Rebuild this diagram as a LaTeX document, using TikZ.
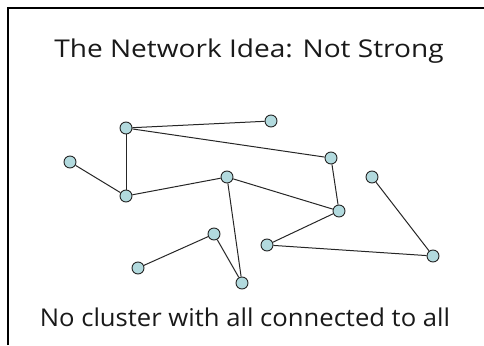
\documentclass[tikz,border=0pt]{standalone}
\usepackage{fontspec}
\setmainfont{Open Sans}
\definecolor{nodefill}{RGB}{178,218,222}
\begin{document}
\begin{tikzpicture}[x=1pt,y=-1pt,
  vert/.style={circle,draw=black!85,fill=nodefill,line width=0.9pt,inner sep=0pt,minimum size=12pt},
  link/.style={line width=1pt,black!85},
  txt/.style={font=\fontsize{24.5}{28}\selectfont,text=black!90,anchor=base,inner sep=0pt}]
\useasboundingbox (0,0) rectangle (484,345);
\draw[line width=2pt] (8,345) -- (8,8) -- (484,8);
\node[txt,xscale=1.145] (title) at (249,57) {The Network Idea: Not Strong};
\node[txt,xscale=1.046] (caption) at (245,326) {No cluster with all connected to all};
\node[vert] (A) at (126,128) {};
\node[vert] (B) at (271,121) {};
\node[vert] (C) at (331,158) {};
\node[vert] (D) at (70,162) {};
\node[vert] (E) at (126,196) {};
\node[vert] (F) at (227,177) {};
\node[vert] (G) at (339,211) {};
\node[vert] (H) at (372,177) {};
\node[vert] (I) at (214,234) {};
\node[vert] (J) at (267,245) {};
\node[vert] (K) at (433,256) {};
\node[vert] (L) at (138,268) {};
\node[vert] (M) at (242,283) {};
\draw[link] (A) -- (B);
\draw[link] (A) -- (C);
\draw[link] (A) -- (E);
\draw[link] (D) -- (E);
\draw[link] (E) -- (F);
\draw[link] (F) -- (G);
\draw[link] (C) -- (G);
\draw[link] (F) -- (M);
\draw[link] (I) -- (M);
\draw[link] (L) -- (I);
\draw[link] (G) -- (J);
\draw[link] (J) -- (K);
\draw[link] (H) -- (K);
\end{tikzpicture}
\end{document}
